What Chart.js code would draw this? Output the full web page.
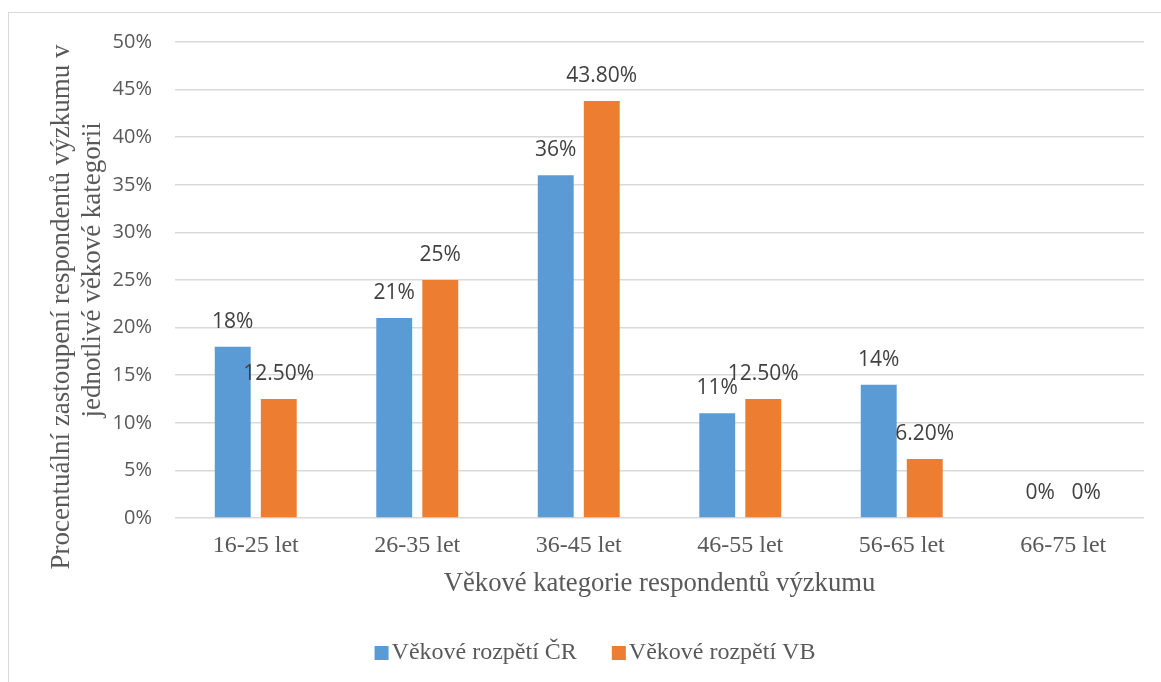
<!DOCTYPE html>
<html lang="cs">
<head>
<meta charset="utf-8">
<title>Věkové kategorie respondentů výzkumu</title>
<script src="https://cdn.jsdelivr.net/npm/chart.js@4.4.1/dist/chart.umd.min.js"></script>
<style>
  html, body { margin: 0; padding: 0; background: #ffffff; overflow: hidden; width: 1161px; height: 682px; }
  #frame { position: absolute; left: 8px; top: 12px; width: 1172px; height: 698px; border: 1px solid #d9d9d9; background: #ffffff; }
  canvas { display: block; }
</style>
</head>
<body>
<div id="frame"><canvas id="chart" width="1172" height="698"></canvas></div>
<script>
// Age groups of the survey respondents
const categories = ['16-25 let', '26-35 let', '36-45 let', '46-55 let', '56-65 let', '66-75 let'];
// Share of respondents in each group (%)
const seriesCR = [18, 21, 36, 11, 14, 0];
const seriesVB = [12.5, 25, 43.8, 12.5, 6.2, 0];
const seriesNames = ['Věkové rozpětí ČR', 'Věkové rozpětí VB'];
const seriesColors = ['#5b9bd5', '#ed7d31'];

const SERIF = '"Liberation Serif", "Times New Roman", serif';
const SANS = '"Open Sans", "Liberation Sans", sans-serif';
const TEXT_GREY = '#595959';

// whole numbers as "18%", fractional values with two decimals as "12.50%"
function fmtPct(v) {
  return Number.isInteger(v) ? v + '%' : v.toFixed(2) + '%';
}

// value labels above each bar
const valueLabels = {
  id: 'valueLabels',
  afterDatasetsDraw(chart) {
    const ctx = chart.ctx;
    ctx.save();
    ctx.font = '21px ' + SANS;
    ctx.fillStyle = '#404040';
    ctx.textAlign = 'center';
    ctx.textBaseline = 'middle';
    chart.data.datasets.forEach((ds, di) => {
      const meta = chart.getDatasetMeta(di);
      meta.data.forEach((bar, i) => {
        ctx.fillText(fmtPct(ds.data[i]), bar.x, bar.y - 25);
      });
    });
    ctx.restore();
  }
};

// legend centred under the axis title: small square + series name
const bottomLegend = {
  id: 'bottomLegend',
  afterDraw(chart) {
    const ctx = chart.ctx;
    ctx.save();
    ctx.font = '24px ' + SERIF;
    ctx.textBaseline = 'middle';
    ctx.textAlign = 'left';
    const box = 14, gap = 3, itemGap = 35;
    const items = chart.data.datasets.map(ds => ({
      text: ds.label,
      color: ds.backgroundColor,
      w: box + gap + ctx.measureText(ds.label).width
    }));
    const total = items.reduce((s, it) => s + it.w, 0) + itemGap * (items.length - 1);
    let x = chart.width / 2 - total / 2;
    const y = chart.height - 58;
    items.forEach(it => {
      ctx.fillStyle = it.color;
      ctx.fillRect(x, y - box / 2, box, box);
      ctx.fillStyle = TEXT_GREY;
      ctx.fillText(it.text, x + box + gap, y);
      x += it.w + itemGap;
    });
    ctx.restore();
  }
};

new Chart(document.getElementById('chart'), {
  type: 'bar',
  data: {
    labels: categories,
    datasets: [
      { label: seriesNames[0], data: seriesCR, backgroundColor: seriesColors[0] },
      { label: seriesNames[1], data: seriesVB, backgroundColor: seriesColors[1] }
    ]
  },
  options: {
    responsive: false,
    animation: false,
    devicePixelRatio: 1,
    categoryPercentage: 0.57,
    barPercentage: 0.78,
    layout: { padding: { top: 29, right: 37, bottom: 111, left: 0 } },
    plugins: {
      legend: { display: false },
      tooltip: { enabled: false }
    },
    scales: {
      x: {
        grid: { display: false },
        border: { display: false },
        ticks: {
          color: TEXT_GREY,
          font: { family: SERIF, size: 24, lineHeight: 1.2 },
          padding: 5,
          maxRotation: 0
        },
        title: {
          display: true,
          text: 'Věkové kategorie respondentů výzkumu',
          color: TEXT_GREY,
          font: { family: SERIF, size: 26.67, lineHeight: 1.2 },
          padding: 0
        },
        afterFit(scale) { scale.height = 82; }
      },
      y: {
        min: 0,
        max: 50,
        grid: { color: '#d9d9d9', lineWidth: 1.5, drawTicks: false },
        border: { display: false },
        ticks: {
          stepSize: 5,
          color: TEXT_GREY,
          // compact line box so the top label does not push the plot down
          font: { family: SANS, size: 20, lineHeight: 0.6 },
          padding: 23,
          callback: v => v + '%'
        },
        title: {
          display: true,
          text: ['Procentuální zastoupení respondentů výzkumu v        ', '   jednotlivé věkové kategorii'],
          color: TEXT_GREY,
          font: { family: SERIF, size: 27, lineHeight: 1.15 },
          padding: { top: 37, bottom: 0 }
        },
        afterFit(scale) { scale.width = 166; }
      }
    }
  },
  plugins: [valueLabels, bottomLegend]
});
</script>
</body>
</html>
